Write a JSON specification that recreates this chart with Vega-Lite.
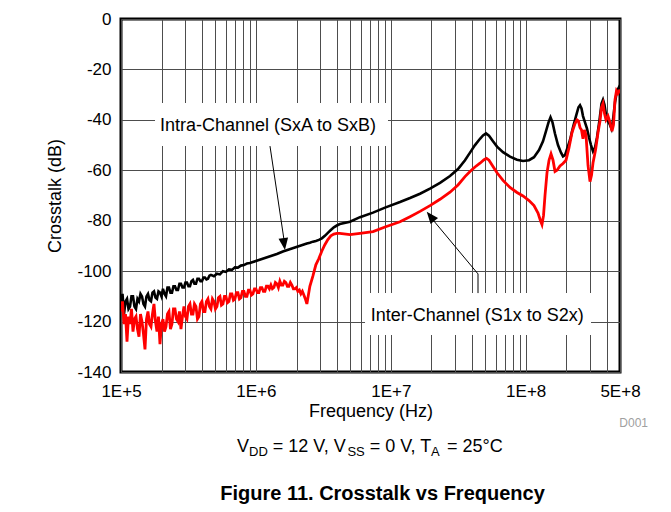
{
  "$schema": "https://vega.github.io/schema/vega-lite/v6.json",
  "width": 499,
  "height": 353,
  "autosize": {"type": "none"},
  "padding": {"left": 121, "top": 19, "right": 51, "bottom": 140},
  "background": "white",
  "datasets": {
    "intra": [
      {"f":100000,"db":-113},{"f":102590,"db":-109},{"f":105250,"db":-117},{"f":107980,"db":-112},{"f":110780,"db":-111},{"f":113650,"db":-115},
      {"f":116590,"db":-114},{"f":119610,"db":-110},{"f":122710,"db":-110},{"f":125890,"db":-114},{"f":129160,"db":-115},{"f":132510,"db":-111},
      {"f":135940,"db":-112},{"f":139460,"db":-109},{"f":143080,"db":-110},{"f":146790,"db":-113},{"f":150590,"db":-114},{"f":154500,"db":-110},
      {"f":158490,"db":-109},{"f":162600,"db":-111.5},{"f":166810,"db":-112},{"f":171140,"db":-108.5},{"f":175570,"db":-108},{"f":180120,"db":-110.5},
      {"f":184790,"db":-111},{"f":189580,"db":-108},{"f":194490,"db":-108.5},{"f":199530,"db":-110},{"f":204700,"db":-107},{"f":210010,"db":-109},
      {"f":215450,"db":-110},{"f":221030,"db":-106.5},{"f":226760,"db":-106.5},{"f":232630,"db":-108.5},{"f":238660,"db":-108.5},{"f":244850,"db":-106},
      {"f":251190,"db":-106},{"f":257700,"db":-107.5},{"f":264380,"db":-107.5},{"f":271230,"db":-105},{"f":278260,"db":-105},{"f":285470,"db":-106.5},
      {"f":292870,"db":-106.5},{"f":300460,"db":-104.5},{"f":308240,"db":-104.5},{"f":316230,"db":-106},{"f":324430,"db":-106},{"f":332830,"db":-104},
      {"f":341460,"db":-103.5},{"f":350310,"db":-105},{"f":359380,"db":-105},{"f":368700,"db":-103},{"f":378250,"db":-103},{"f":388050,"db":-104},
      {"f":398110,"db":-104},{"f":408430,"db":-102.5},{"f":419010,"db":-102.5},{"f":429870,"db":-103.3},{"f":441010,"db":-103},{"f":452440,"db":-101.8},
      {"f":464160,"db":-101.5},{"f":488530,"db":-102},{"f":514180,"db":-101},{"f":541170,"db":-101.3},{"f":569580,"db":-100},
      {"f":599480,"db":-100.3},{"f":630960,"db":-99.3},{"f":664080,"db":-99.5},{"f":698950,"db":-98.5},{"f":735640,"db":-98.6},
      {"f":774260,"db":-97.8},{"f":814910,"db":-97.6},{"f":857700,"db":-97},{"f":902730,"db":-96.8},{"f":950120,"db":-96.4},
      {"f":1000000,"db":-96},{"f":1052500,"db":-95.6},{"f":1107800,"db":-95.2},{"f":1165900,"db":-94.8},{"f":1227100,"db":-94.4},
      {"f":1291600,"db":-94},{"f":1359400,"db":-93.6},{"f":1430800,"db":-93.2},{"f":1505900,"db":-92.7},{"f":1584900,"db":-92.2},
      {"f":1668100,"db":-91.8},{"f":1755700,"db":-91.4},{"f":1847900,"db":-91},{"f":1944900,"db":-90.6},{"f":2047000,"db":-90.2},
      {"f":2154500,"db":-89.8},{"f":2267600,"db":-89.4},{"f":2386600,"db":-89},{"f":2511900,"db":-88.7},{"f":2643800,"db":-88.3},
      {"f":2782600,"db":-88},{"f":2928700,"db":-87.6},{"f":3082400,"db":-87},{"f":3244300,"db":-86},{"f":3414600,"db":-84.8},
      {"f":3593800,"db":-83.7},{"f":3782500,"db":-82.6},{"f":3981100,"db":-81.9},{"f":4190100,"db":-81.3},
      {"f":4980000,"db":-80.4},{"f":5910000,"db":-78.6},{"f":7380000,"db":-76.8},{"f":9060000,"db":-74.8},{"f":11700000,"db":-72.6},
      {"f":13880000,"db":-71},{"f":16460000,"db":-69.3},{"f":19520000,"db":-67.3},{"f":23160000,"db":-65},{"f":27470000,"db":-62.3},
      {"f":31490000,"db":-59.5},{"f":35480000,"db":-56},{"f":38650000,"db":-53},{"f":42090000,"db":-50},{"f":45840000,"db":-47.5},
      {"f":48260000,"db":-46.2},{"f":50790000,"db":-45.4},{"f":53440000,"db":-46.3},{"f":57220000,"db":-48.5},{"f":61280000,"db":-50.6},
      {"f":67870000,"db":-52.8},{"f":76480000,"db":-54.6},{"f":86180000,"db":-55.8},{"f":95500000,"db":-56.3},{"f":105800000,"db":-56},
      {"f":115200000,"db":-54.8},{"f":125500000,"db":-52},{"f":134300000,"db":-48.5},{"f":141400000,"db":-44.5},{"f":147600000,"db":-41},
      {"f":152700000,"db":-39},{"f":158000000,"db":-41},{"f":164900000,"db":-45.5},{"f":173500000,"db":-50},{"f":182700000,"db":-53},
      {"f":189000000,"db":-54.5},{"f":195600000,"db":-54},{"f":204100000,"db":-51},{"f":213000000,"db":-48},{"f":224200000,"db":-43},
      {"f":236000000,"db":-38.5},{"f":246200000,"db":-35},{"f":252600000,"db":-34.2},{"f":259200000,"db":-35.5},{"f":265900000,"db":-38.5},
      {"f":275100000,"db":-41},{"f":284700000,"db":-43.5},{"f":294600000,"db":-47},{"f":304800000,"db":-50},{"f":315500000,"db":-52.5},
      {"f":326500000,"db":-51},{"f":337800000,"db":-47},{"f":352500000,"db":-40},{"f":364700000,"db":-33.5},{"f":374100000,"db":-32},
      {"f":383800000,"db":-34},{"f":393700000,"db":-38},{"f":407400000,"db":-40.5},{"f":421600000,"db":-42},{"f":432500000,"db":-43.5},
      {"f":443800000,"db":-40},{"f":459200000,"db":-33},{"f":475100000,"db":-28.5},{"f":491600000,"db":-27},{"f":500000000,"db":-28}
    ],
    "inter": [
      {"f":100000,"db":-116},{"f":102590,"db":-112},{"f":105250,"db":-121},{"f":107980,"db":-117},{"f":110780,"db":-128},{"f":113650,"db":-118},
      {"f":116590,"db":-121},{"f":119610,"db":-115},{"f":122710,"db":-124},{"f":125890,"db":-119},{"f":129160,"db":-118},{"f":132510,"db":-123},
      {"f":135940,"db":-126},{"f":139460,"db":-117},{"f":143080,"db":-120},{"f":146790,"db":-125},{"f":150590,"db":-131},{"f":154500,"db":-119},
      {"f":158490,"db":-116},{"f":162600,"db":-121},{"f":166810,"db":-122},{"f":171140,"db":-117},{"f":175570,"db":-113},{"f":180120,"db":-120},
      {"f":184790,"db":-124},{"f":189580,"db":-118},{"f":194490,"db":-129},{"f":199530,"db":-121},{"f":204700,"db":-119},{"f":210010,"db":-124},
      {"f":215450,"db":-122},{"f":221030,"db":-117},{"f":226760,"db":-116},{"f":232630,"db":-123},{"f":238660,"db":-121},{"f":244850,"db":-115},
      {"f":251190,"db":-115},{"f":257700,"db":-119},{"f":264380,"db":-120},{"f":271230,"db":-116},{"f":278260,"db":-123},{"f":285470,"db":-118},
      {"f":292870,"db":-114},{"f":300460,"db":-118},{"f":308240,"db":-119},{"f":316230,"db":-114},{"f":324430,"db":-113},{"f":332830,"db":-117},
      {"f":341460,"db":-117},{"f":350310,"db":-113},{"f":359380,"db":-114},{"f":368700,"db":-119},{"f":378250,"db":-118},{"f":388050,"db":-113},
      {"f":398110,"db":-112},{"f":408430,"db":-116},{"f":419010,"db":-116},{"f":429870,"db":-112},{"f":441010,"db":-111},{"f":452440,"db":-114},
      {"f":464160,"db":-115},{"f":476190,"db":-111},{"f":488530,"db":-112},{"f":501190,"db":-115},{"f":514180,"db":-114},{"f":527500,"db":-110.5},
      {"f":541170,"db":-110},{"f":555200,"db":-113.5},{"f":569580,"db":-113},{"f":584340,"db":-110},{"f":599480,"db":-110},{"f":615020,"db":-112.5},
      {"f":630960,"db":-112},{"f":647310,"db":-109},{"f":664080,"db":-109},{"f":681290,"db":-111.5},{"f":698950,"db":-111},{"f":717060,"db":-108.5},
      {"f":735640,"db":-108.5},{"f":754710,"db":-111},{"f":774260,"db":-110.5},{"f":794330,"db":-108},{"f":814910,"db":-108},{"f":836030,"db":-110},
      {"f":857700,"db":-110},{"f":879920,"db":-107.5},{"f":902730,"db":-107.5},{"f":926120,"db":-109.5},{"f":950120,"db":-109},{"f":974750,"db":-107},
      {"f":1000000,"db":-107},{"f":1025900,"db":-108.5},{"f":1052500,"db":-108.5},{"f":1079800,"db":-106.5},{"f":1107800,"db":-106.5},{"f":1136500,"db":-108},
      {"f":1165900,"db":-108},{"f":1196100,"db":-106},{"f":1227100,"db":-106},{"f":1258900,"db":-107},{"f":1291600,"db":-105.5},{"f":1325100,"db":-107},
      {"f":1359400,"db":-106.5},{"f":1394600,"db":-104.5},{"f":1430800,"db":-105},{"f":1467900,"db":-106.5},{"f":1505900,"db":-104},{"f":1545000,"db":-105.5},
      {"f":1584900,"db":-105.5},{"f":1626000,"db":-104},{"f":1668100,"db":-104.5},{"f":1711400,"db":-106},{"f":1755700,"db":-106},{"f":1801200,"db":-104.5},
      {"f":1847900,"db":-105.5},{"f":1895800,"db":-107},{"f":1944900,"db":-107},{"f":1995300,"db":-106.5},{"f":2047000,"db":-108},{"f":2100100,"db":-107.5},
      {"f":2154500,"db":-109},{"f":2210300,"db":-108},{"f":2267600,"db":-109.5},{"f":2326300,"db":-111},{"f":2386600,"db":-113},{"f":2511900,"db":-106},
      {"f":2643800,"db":-102},{"f":2782600,"db":-97.5},{"f":2928700,"db":-95},{"f":3082400,"db":-92},{"f":3244300,"db":-89.5},{"f":3414600,"db":-87.5},
      {"f":3593800,"db":-86},{"f":3782500,"db":-85.3},{"f":3981100,"db":-85},{"f":4190100,"db":-85},
      {"f":4980000,"db":-85.5},{"f":5910000,"db":-85},{"f":7380000,"db":-84.3},{"f":9060000,"db":-82.5},{"f":11700000,"db":-80.4},
      {"f":13880000,"db":-78.4},{"f":16460000,"db":-76.3},{"f":19520000,"db":-74},{"f":23160000,"db":-71.5},{"f":27470000,"db":-68.7},
      {"f":31490000,"db":-65.8},{"f":35480000,"db":-62.5},{"f":38650000,"db":-60.5},{"f":42090000,"db":-58.7},{"f":45840000,"db":-57.2},
      {"f":49090000,"db":-55.8},{"f":51220000,"db":-55.3},{"f":53440000,"db":-56},{"f":57220000,"db":-58.5},{"f":61280000,"db":-61},
      {"f":67870000,"db":-64},{"f":76480000,"db":-66.8},{"f":86180000,"db":-68.8},{"f":95500000,"db":-70.2},{"f":105800000,"db":-72},
      {"f":115200000,"db":-74},{"f":123400000,"db":-77},{"f":128700000,"db":-80},{"f":132000000,"db":-81.5},{"f":135500000,"db":-78},
      {"f":139000000,"db":-70},{"f":143800000,"db":-61},{"f":148900000,"db":-56},{"f":154000000,"db":-53.5},{"f":159400000,"db":-56},
      {"f":164900000,"db":-60.5},{"f":170600000,"db":-60},{"f":179600000,"db":-58.3},{"f":189000000,"db":-57.3},{"f":198900000,"db":-56},
      {"f":209400000,"db":-51},{"f":220400000,"db":-45},{"f":232000000,"db":-41.5},{"f":240100000,"db":-40},{"f":246200000,"db":-40.5},
      {"f":252600000,"db":-43},{"f":259200000,"db":-44},{"f":265900000,"db":-47.5},{"f":272800000,"db":-44},{"f":279900000,"db":-46},
      {"f":289600000,"db":-58},{"f":299700000,"db":-64.5},{"f":307400000,"db":-62},{"f":315500000,"db":-57},{"f":329300000,"db":-52},
      {"f":343600000,"db":-45},{"f":355500000,"db":-40.5},{"f":364700000,"db":-35},{"f":374100000,"db":-33.5},{"f":383800000,"db":-37.5},
      {"f":393700000,"db":-40},{"f":407400000,"db":-38.5},{"f":421600000,"db":-41},{"f":436200000,"db":-44.5},{"f":447600000,"db":-42},
      {"f":459200000,"db":-32},{"f":471100000,"db":-28.5},{"f":483300000,"db":-29.5},{"f":500000000,"db":-28}
    ]
  },
  "config": {
    "font": "Liberation Sans",
    "view": {"stroke": "#000000", "strokeWidth": 3},
    "axis": {
      "labelFont": "Liberation Sans",
      "titleFont": "Liberation Sans",
      "labelColor": "#000000",
      "titleColor": "#000000",
      "labelFontSize": 17,
      "titleFontSize": 18,
      "titleFontWeight": "normal",
      "domain": false,
      "ticks": false,
      "tickSize": 0,
      "grid": true,
      "gridColor": "#4d4d4d",
      "gridWidth": 1,
      "labelOverlap": false,
      "labelBound": false,
      "labelFlush": false
    }
  },
  "encoding": {
    "x": {
      "field": "f",
      "type": "quantitative",
      "scale": {"type": "log", "domain": [100000, 500000000], "nice": false},
      "axis": {
        "title": "Frequency (Hz)",
        "values": [100000,200000,300000,400000,500000,600000,700000,800000,900000,
                   1000000,2000000,3000000,4000000,5000000,6000000,7000000,8000000,9000000,
                   10000000,20000000,30000000,40000000,50000000,60000000,70000000,80000000,90000000,
                   100000000,200000000,300000000,400000000,500000000],
        "labelExpr": "datum.value == 100000 ? '1E+5' : datum.value == 1000000 ? '1E+6' : datum.value == 10000000 ? '1E+7' : datum.value == 100000000 ? '1E+8' : datum.value == 500000000 ? '5E+8' : ''",
        "labelPadding": 11,
        "titlePadding": 3
      }
    },
    "y": {
      "field": "db",
      "type": "quantitative",
      "scale": {"domain": [-140, 0], "nice": false, "zero": false},
      "axis": {
        "title": "Crosstalk (dB)",
        "values": [-140, -120, -100, -80, -60, -40, -20, 0],
        "labelExpr": "'' + datum.value",
        "labelPadding": 10,
        "titlePadding": 12
      }
    }
  },
  "layer": [
    {
      "data": {"values": [
        {"f": 178700, "f2": 9530000, "db": -33.3, "db2": -50.4},
        {"f": 6440000, "f2": 304900000, "db": -108.7, "db2": -125.3}
      ]},
      "mark": {"type": "rect", "fill": "#ffffff", "stroke": null},
      "encoding": {"x2": {"field": "f2"}, "y2": {"field": "db2"}}
    },
    {
      "data": {"name": "intra"},
      "mark": {"type": "line", "color": "#000000", "strokeWidth": 2.6, "clip": true},
      "encoding": {}
    },
    {
      "data": {"name": "inter"},
      "mark": {"type": "line", "color": "#ff0000", "strokeWidth": 2.8, "clip": true},
      "encoding": {}
    },
    {
      "data": {"values": [
        {"a": "intra", "k": 1, "f": 1272000, "db": -50.4},
        {"a": "intra", "k": 2, "f": 1616000, "db": -87.6},
        {"a": "inter", "k": 1, "f": 44300000, "db": -108.7},
        {"a": "inter", "k": 2, "f": 44300000, "db": -101.1},
        {"a": "inter", "k": 3, "f": 20550000, "db": -79.7}
      ]},
      "mark": {"type": "line", "color": "#000000", "strokeWidth": 1},
      "encoding": {"detail": {"field": "a"}, "order": {"field": "k"}}
    },
    {
      "data": {"values": [{"f": 1619000, "db": -89.27}]},
      "mark": {"type": "point", "shape": "M0,1L-0.8,-1L0.8,-1Z", "size": 144, "filled": true, "color": "#000000", "opacity": 1, "angle": 352},
      "encoding": {}
    },
    {
      "data": {"values": [{"f": 19700000, "db": -78.3}]},
      "mark": {"type": "point", "shape": "M0,1L-0.8,-1L0.8,-1Z", "size": 144, "filled": true, "color": "#000000", "opacity": 1, "angle": 141},
      "encoding": {}
    },
    {
      "data": {"values": [
        {"f": 194500, "db": -44.4, "t": "Intra-Channel (SxA to SxB)"},
        {"f": 7100000, "db": -119.6, "t": "Inter-Channel (S1x to S2x)"}
      ]},
      "mark": {"type": "text", "align": "left", "baseline": "alphabetic", "fontSize": 18, "color": "#000000"},
      "encoding": {"text": {"field": "t"}}
    },
    {
      "data": {"values": [
        {"f": 724000, "db": -171.9, "t": "V"},
        {"f": 1335000, "db": -171.9, "t": "= 12 V, V"},
        {"f": 6980000, "db": -171.9, "t": "= 0 V, T"},
        {"f": 26050000, "db": -171.9, "t": "= 25°C"}
      ]},
      "mark": {"type": "text", "align": "left", "baseline": "alphabetic", "fontSize": 18, "color": "#000000"},
      "encoding": {"text": {"field": "t"}}
    },
    {
      "data": {"values": [
        {"f": 889000, "db": -173.5, "t": "DD"},
        {"f": 4770000, "db": -173.5, "t": "SS"},
        {"f": 19860000, "db": -173.5, "t": "A"}
      ]},
      "mark": {"type": "text", "align": "left", "baseline": "alphabetic", "fontSize": 13, "color": "#000000"},
      "encoding": {"text": {"field": "t"}}
    },
    {
      "data": {"values": [{"f": 8680000, "db": -190.8, "t": "Figure 11. Crosstalk vs Frequency"}]},
      "mark": {"type": "text", "align": "center", "baseline": "alphabetic", "fontSize": 20, "fontWeight": "bold", "color": "#000000"},
      "encoding": {"text": {"field": "t"}}
    },
    {
      "data": {"values": [{"f": 807000000, "db": -161.8, "t": "D001"}]},
      "mark": {"type": "text", "align": "right", "baseline": "alphabetic", "fontSize": 12, "color": "#a0a0a0"},
      "encoding": {"text": {"field": "t"}}
    }
  ]
}
